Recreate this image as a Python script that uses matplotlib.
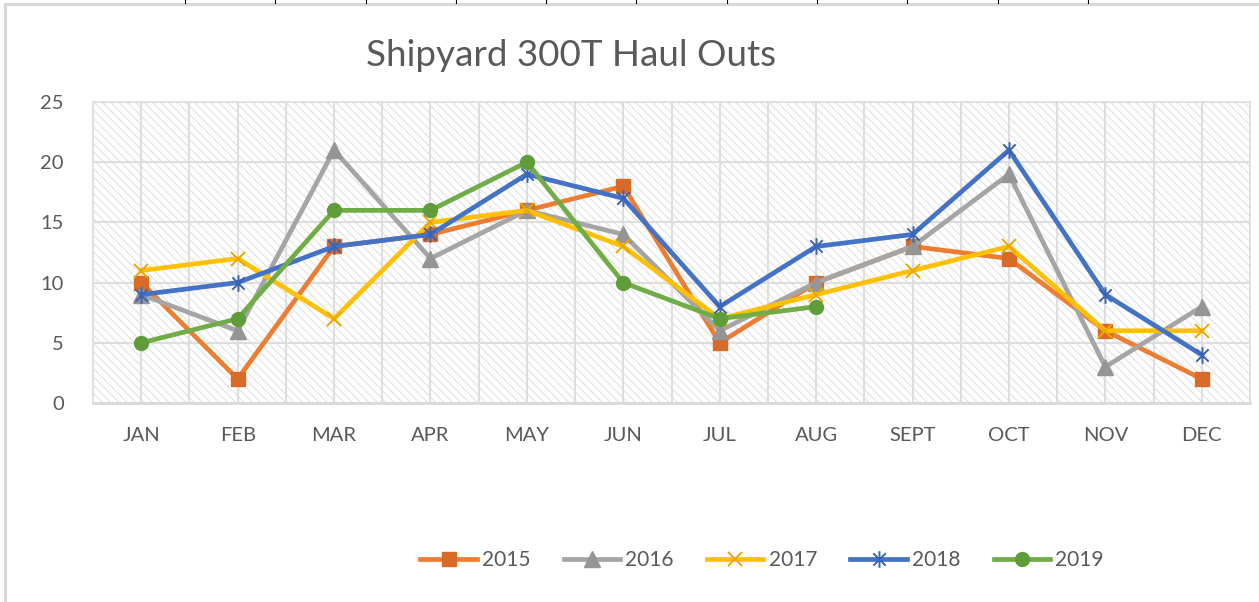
import matplotlib
matplotlib.use('Agg')
import matplotlib.pyplot as plt
import numpy as np
from matplotlib.path import Path
from matplotlib.patches import Rectangle
from matplotlib.lines import Line2D

# ---------------- data ----------------
months = ['JAN', 'FEB', 'MAR', 'APR', 'MAY', 'JUN', 'JUL', 'AUG', 'SEPT', 'OCT', 'NOV', 'DEC']
years = ['2015', '2016', '2017', '2018', '2019']
s2015 = [10, 2, 13, 14, 16, 18, 5, 10, 13, 12, 6, 2]
s2016 = [9, 6, 21, 12, 16, 14, 6, 10, 13, 19, 3, 8]
s2017 = [11, 12, 7, 15, 16, 13, 7, 9, 11, 13, 6, 6]
s2018 = [9, 10, 13, 14, 19, 17, 8, 13, 14, 21, 9, 4]
s2019 = [5, 7, 16, 16, 20, 10, 7, 8]
y_ticks = [0, 5, 10, 15, 20, 25]
title = 'Shipyard 300T Haul Outs'

# ---------------- style ----------------
FONT = 'Lato'
TXT = '#595959'
GRID = '#DEDEDE'
plt.rcParams['font.family'] = [FONT, 'DejaVu Sans']
plt.rcParams['hatch.linewidth'] = 0.8

star = Path([(-1, -1), (1, 1), (-1, 1), (1, -1), (0, -1.35), (0, 1.35)],
            [Path.MOVETO, Path.LINETO, Path.MOVETO, Path.LINETO, Path.MOVETO, Path.LINETO])

styles = [
    dict(color='#ED7D31', marker='s', mfc='#D86B28', mec='#D86B28', ms=10, mew=1),
    dict(color='#A5A5A5', marker='^', mfc='#959595', mec='#959595', ms=11, mew=1),
    dict(color='#FFC000', marker='x', mfc='none', mec='#E8A800', ms=10, mew=1.4),
    dict(color='#4472C4', marker=star, mfc='none', mec='#3A63B3', ms=12, mew=1.4),
    dict(color='#70AD47', marker='o', mfc='#5F9D3B', mec='#5F9D3B', ms=10, mew=1),
]
series = [s2015, s2016, s2017, s2018, s2019]

W, H = 1259, 602
fig = plt.figure(figsize=(W / 100, H / 100), dpi=100)
fig.patch.set_facecolor('white')

# chart frame (light grey) at top and left
fig.add_artist(Line2D([4.5 / W, 4.5 / W], [0, 1 - 3.5 / H], transform=fig.transFigure,
                      color='#D9D9D9', lw=2.2))
fig.add_artist(Line2D([4.5 / W, 1], [1 - 3.5 / H, 1 - 3.5 / H], transform=fig.transFigure,
                      color='#D9D9D9', lw=2.2))
for xt in np.arange(185, 1100, 90.3):
    fig.add_artist(Line2D([xt / W, xt / W], [1 - 3 / H, 1], transform=fig.transFigure,
                          color='black', lw=0.8))

left, right, top, bottom = 93, 1250, 102, 403
ax = fig.add_axes([left / W, 1 - bottom / H, (right - left) / W, (bottom - top) / H])
ax.set_facecolor('white')
ax.add_patch(Rectangle((0, 0), 1, 1, transform=ax.transAxes, facecolor='white',
                       edgecolor='#E2E2E2', lw=0, hatch='\\\\\\\\', zorder=0))

x = np.arange(len(months))
for i, (vals, st) in enumerate(zip(series, styles)):
    xi = x[:len(vals)]
    ax.plot(xi, vals, color=st['color'], lw=3.4, marker=st['marker'],
            markerfacecolor=st['mfc'], markeredgecolor=st['mec'],
            markersize=st['ms'], markeredgewidth=st['mew'],
            label=years[i], zorder=3 + i, solid_joinstyle='miter', clip_on=False)

ax.set_xlim(-0.5, len(months) - 0.5)
ax.set_ylim(0, 25)
ax.set_yticks(y_ticks)
ax.set_xticks(x)
ax.set_xticklabels(months)
ax.set_xticks(np.arange(-0.5, len(months), 1.0), minor=True)
ax.grid(True, which='both', axis='x', color=GRID, lw=1.5, zorder=1)
ax.grid(True, which='major', axis='y', color=GRID, lw=1.5, zorder=1)
ax.set_axisbelow(True)
ax.tick_params(axis='both', which='both', length=0)
ax.tick_params(axis='y', pad=21, labelsize=14.5, labelcolor=TXT)
ax.tick_params(axis='x', pad=17, labelsize=14.5, labelcolor=TXT)
for s in ['top', 'left', 'right']:
    ax.spines[s].set_color(GRID)
    ax.spines[s].set_linewidth(1.2)
ax.spines['bottom'].set_color('#D9D9D9')
ax.spines['bottom'].set_linewidth(2.0)

fig.text(571 / W, 1 - 55 / H, title, ha='center', va='center', fontsize=26.5,
         color=TXT, fontweight='normal')

handles, labels = ax.get_legend_handles_labels()
fig.legend(handles, labels, loc='center', bbox_to_anchor=(762 / W, 1 - 560 / H), ncol=5,
           frameon=False, fontsize=15, labelcolor=TXT, handlelength=2.7,
           handletextpad=0.25, columnspacing=1.6)

fig.savefig('out.png', dpi=100, facecolor='white')
